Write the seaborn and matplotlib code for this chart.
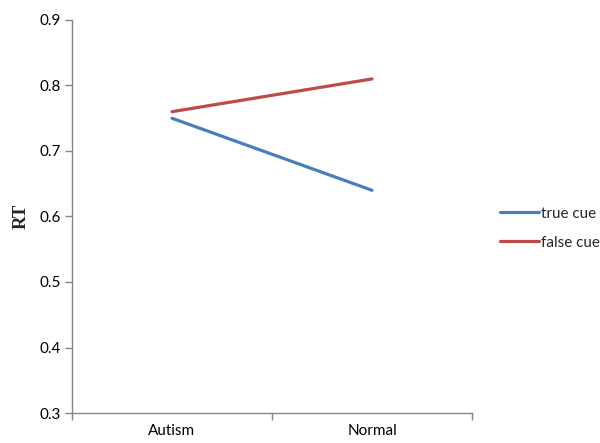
import pandas as pd
import matplotlib
matplotlib.use("Agg")
import matplotlib.pyplot as plt
import seaborn as sns

groups = ["Autism", "Normal"]
true_cue = [0.75, 0.64]
false_cue = [0.76, 0.81]
series_names = ["true cue", "false cue"]
y_ticks = [0.3, 0.4, 0.5, 0.6, 0.7, 0.8, 0.9]

df = pd.DataFrame({
    "Group": groups * 2,
    "RT": true_cue + false_cue,
    "Cue": [series_names[0]] * 2 + [series_names[1]] * 2,
})

sns.set_style("white")
plt.rcParams["font.family"] = ["Lato", "DejaVu Sans"]

fig = plt.figure(figsize=(6, 4.43), dpi=100)
ax = fig.add_axes([0.12, 0.0677, 0.6667, 0.8872])

sns.lineplot(data=df, x="Group", y="RT", hue="Cue", sort=False,
             palette=["#4A7EBB", "#BE4B48"], linewidth=2.3, ax=ax)

grey = "#868686"
fs = 11
ax.set_xlim(-0.5, 1.5)
ax.set_ylim(0.3, 0.9)
ax.set_yticks(y_ticks)
ax.set_yticklabels([f"{v:.1f}" for v in y_ticks], fontsize=fs)
ax.set_xticks([0, 1])
ax.set_xticklabels(groups, fontsize=fs)
ax.set_xticks([-0.5, 0.5, 1.5], minor=True)
ax.tick_params(axis="x", which="major", bottom=True, length=0, pad=8, labelcolor="black")
ax.tick_params(axis="x", which="minor", bottom=True, length=5, width=1, color=grey, direction="out")
ax.tick_params(axis="y", which="major", left=True, length=5, width=1, color=grey,
               direction="out", pad=3, labelcolor="black")
for s in ["top", "right"]:
    ax.spines[s].set_visible(False)
for s in ["left", "bottom"]:
    ax.spines[s].set_color(grey)
    ax.spines[s].set_linewidth(1)

ax.set_xlabel("")
ax.set_ylabel("RT", fontsize=13.5, fontweight="bold", labelpad=7,
              family=["Liberation Serif", "DejaVu Serif"])

handles, labels = ax.get_legend_handles_labels()
ax.legend(handles, labels, loc="center left", bbox_to_anchor=(0.81, 0.485),
          bbox_transform=fig.transFigure, frameon=False, fontsize=fs,
          handlelength=2.6, handletextpad=0.1, labelspacing=1.0, title=None)

fig.savefig("out.png", dpi=100)
